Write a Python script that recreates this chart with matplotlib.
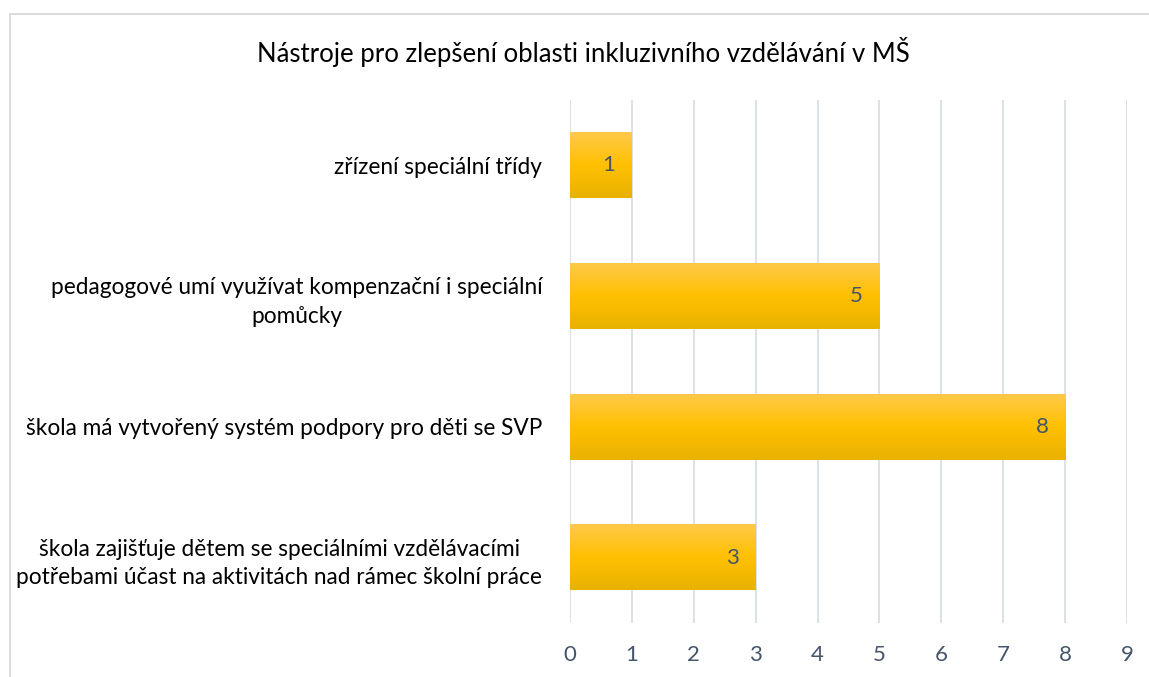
import numpy as np
import matplotlib.pyplot as plt
from matplotlib.colors import LinearSegmentedColormap
from matplotlib.patches import Rectangle

plt.rcParams['font.family'] = ['Lato', 'DejaVu Sans']

title = 'Nástroje pro zlepšení oblasti inkluzivního vzdělávání v MŠ'
categories = [
    'zřízení speciální třídy',
    'pedagogové umí využívat kompenzační i speciální\npomůcky',
    'škola má vytvořený systém podpory pro děti se SVP',
    'škola zajišťuje dětem se speciálními vzdělávacími\npotřebami účast na aktivitách nad rámec školní práce',
]
values = [1, 5, 8, 3]
xticks = list(range(0, 10))

W, H = 1149, 677
fig = plt.figure(figsize=(W / 100, H / 100), dpi=100)
fig.patch.set_facecolor('white')

# chart area border (cut off at right and bottom in the original)
fig.patches.append(Rectangle((9.5 / W, -0.1), 1.2, 1 - 13.5 / H + 0.1,
                             transform=fig.transFigure, fill=False,
                             edgecolor='#D9D9D9', linewidth=1.3))

ax = fig.add_axes([570 / W, 1 - 623 / H, (1127 - 570) / W, (623 - 100) / H])

grad = LinearSegmentedColormap.from_list('gold', ['#E8B200', '#FFC000', '#FFC94A'])
gimg = np.linspace(0, 1, 256).reshape(-1, 1)

bar_h = 0.5
ypos = np.arange(len(categories))
for y, v in zip(ypos, values):
    ax.imshow(gimg, cmap=grad, aspect='auto', origin='lower',
              extent=[0, v, y + bar_h / 2, y - bar_h / 2], zorder=2)
    ax.annotate(str(v), xy=(v, y), xytext=(-12, 0), textcoords='offset points',
                ha='right', va='center', fontsize=16, color='#44546A', zorder=3)

ax.set_xlim(0, 9)
ax.set_ylim(len(categories) - 0.5, -0.5)
ax.set_xticks(xticks)
ax.set_yticks(ypos)
ax.set_yticklabels(categories, fontsize=16.3, color='black', multialignment='center',
                   linespacing=1.45)
ax.tick_params(axis='y', length=0, pad=20)
ax.tick_params(axis='x', length=0, pad=16, labelsize=16, labelcolor='#44546A')
ax.grid(axis='x', color='#D9DDE5', linewidth=1.3, zorder=0)
ax.set_axisbelow(True)
for s in ax.spines.values():
    s.set_visible(False)

fig.text(583 / W, 1 - 52 / H, title, ha='center', va='center', fontsize=18.5, color='black')

fig.savefig('out.png', dpi=100)
